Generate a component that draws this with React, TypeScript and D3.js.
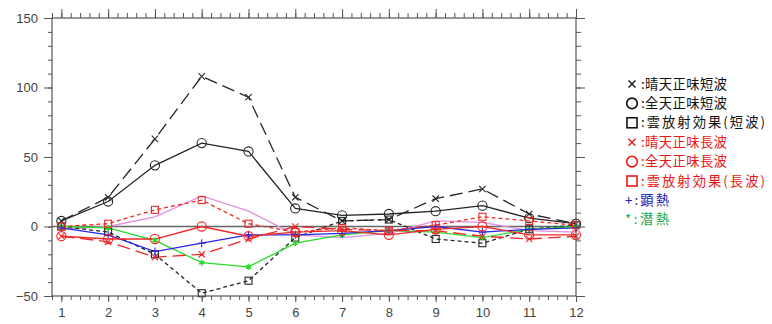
import { useRef, useEffect } from "react";
import * as d3 from "d3";

const months = [1, 2, 3, 4, 5, 6, 7, 8, 9, 10, 11, 12];

const clearSkySW = [4, 21, 63, 108, 93, 21, 4, 5, 20, 27, 9, 2];
const allSkySW = [4, 18, 44, 60, 54, 13, 8, 9, 11, 15, 6, 2];
const cloudSW = [0, -4, -20, -48, -39, -8, 4, 5, -9, -12, -2, 1];
const clearSkyLW = [-7, -11, -22, -20, -9, 0, -2, -3, -3, -7, -9, -7];
const allSkyLW = [-7, -9, -9, 0, -7, -4, -3, -6, -2, 0, -6, -6];
const cloudLW = [0, 2, 12, 19, 2, -4, -1, -3, 1, 7, 4, 1];
const sensible = [-1, -6, -18, -12, -6, -6, -5, -3, 0, -4, -2, -1];
const latent = [0, -1, -10, -26, -29, -12, -6, -3, -4, -8, -2, 0];
const violet = [-2, 0, 7, 22, 11, -6, -8, -5, 4, 3, -3, -4];

const yTicks = [-50, 0, 50, 100, 150];

type Marker = "x" | "o" | "s" | "+" | "*" | null;

interface Series {
  values: number[];
  color: string;
  dash: string | null;
  marker: Marker;
}

const BLACK = "#262626";
const RED = "#f02828";
const BLUE = "#2626e6";
const GREEN = "#28dc28";
const VIOLET = "#e090e0";

const series: Series[] = [
  { values: violet, color: VIOLET, dash: null, marker: null },
  { values: clearSkySW, color: BLACK, dash: "13,6", marker: "x" },
  { values: allSkySW, color: BLACK, dash: null, marker: "o" },
  { values: cloudSW, color: BLACK, dash: "4,3", marker: "s" },
  { values: latent, color: GREEN, dash: null, marker: "*" },
  { values: sensible, color: BLUE, dash: null, marker: "+" },
  { values: clearSkyLW, color: RED, dash: "13,6", marker: "x" },
  { values: allSkyLW, color: RED, dash: null, marker: "o" },
  { values: cloudLW, color: RED, dash: "4,3", marker: "s" },
];

const legendItems = [
  { sym: "x", label: ":晴天正味短波", color: "#111", w: 86 },
  { sym: "o", label: ":全天正味短波", color: "#111", w: 86 },
  { sym: "s", label: ":雲放射効果(短波)", color: "#111", w: 124 },
  { sym: "x", label: ":晴天正味長波", color: "#e81818", w: 86 },
  { sym: "o", label: ":全天正味長波", color: "#e81818", w: 86 },
  { sym: "s", label: ":雲放射効果(長波)", color: "#e81818", w: 124 },
  { sym: "+", label: "+:顕熱", color: "#2020b0", w: 44 },
  { sym: "*", label: "*:潜熱", color: "#18a850", w: 44 },
];

export default function App() {
  const svgRef = useRef<SVGSVGElement>(null);
  const width = 772;
  const height = 324;
  const plot = { left: 52, right: 576, top: 18, bottom: 296 };

  useEffect(() => {
    if (!svgRef.current) return;
    const svg = d3.select(svgRef.current);
    svg.selectAll("*").remove();

    const x = d3.scaleLinear().domain([0.8, 12]).range([plot.left, plot.right]);
    const y = d3.scaleLinear().domain([-50, 150]).range([plot.bottom, plot.top]);

    const axisColor = "#555";
    const tickFont = "'Liberation Sans', Arial, sans-serif";

    // zero line
    svg.append("line")
      .attr("x1", plot.left).attr("x2", plot.right)
      .attr("y1", y(0)).attr("y2", y(0))
      .attr("stroke", "#666").attr("stroke-width", 1.3);

    // series
    const line = d3.line<number>()
      .x((_, i) => x(months[i]))
      .y((d) => y(d));

    series.forEach((s) => {
      svg.append("path")
        .datum(s.values)
        .attr("fill", "none")
        .attr("stroke", s.color)
        .attr("stroke-width", 1.3)
        .attr("stroke-dasharray", s.dash)
        .attr("d", line);
    });

    series.forEach((s) => {
      if (!s.marker) return;
      const g = svg.append("g")
        .attr("stroke", s.color)
        .attr("fill", "none")
        .attr("stroke-width", 1.1);
      s.values.forEach((v, i) => {
        const cx = x(months[i]);
        const cy = y(v);
        if (s.marker === "o") {
          g.append("circle").attr("cx", cx).attr("cy", cy).attr("r", 4.6);
        } else if (s.marker === "s") {
          g.append("rect").attr("x", cx - 3.5).attr("y", cy - 3.5).attr("width", 7).attr("height", 7);
        } else if (s.marker === "x") {
          const r = 3.2;
          g.append("path").attr("d", `M${cx - r},${cy - r}L${cx + r},${cy + r}M${cx - r},${cy + r}L${cx + r},${cy - r}`);
        } else if (s.marker === "+") {
          const r = 4;
          g.append("path").attr("d", `M${cx - r},${cy}L${cx + r},${cy}M${cx},${cy - r}L${cx},${cy + r}`);
        } else if (s.marker === "*") {
          const r = 3;
          let d = "";
          for (let k = 0; k < 3; k++) {
            const a = (Math.PI / 3) * k + Math.PI / 2;
            d += `M${cx - r * Math.cos(a)},${cy - r * Math.sin(a)}L${cx + r * Math.cos(a)},${cy + r * Math.sin(a)}`;
          }
          g.append("path").attr("d", d).attr("stroke-width", 1.4);
        }
      });
    });

    // frame
    svg.append("rect")
      .attr("x", plot.left).attr("y", plot.top)
      .attr("width", plot.right - plot.left).attr("height", plot.bottom - plot.top)
      .attr("fill", "none").attr("stroke", axisColor).attr("stroke-width", 1.2);

    const styleAxis = (a: d3.Selection<SVGGElement, unknown, null, undefined>) => {
      a.select(".domain").remove();
      a.selectAll(".tick line").attr("stroke", axisColor).attr("stroke-width", 1);
      a.selectAll(".tick text")
        .attr("fill", "#444")
        .attr("font-size", 13)
        .attr("font-family", tickFont);
    };

    const xMinor = d3.range(0.8, 12.01, 0.2);
    const yMinor = d3.range(-50, 151, 10);

    // bottom
    svg.append("g").attr("transform", `translate(0,${plot.bottom})`)
      .call(d3.axisBottom(x).tickValues(xMinor).tickSize(4).tickFormat(() => ""))
      .call(styleAxis);
    svg.append("g").attr("transform", `translate(0,${plot.bottom})`)
      .call(d3.axisBottom(x).tickValues(months).tickSize(6).tickPadding(6).tickFormat(d3.format("d")))
      .call(styleAxis);
    // top
    svg.append("g").attr("transform", `translate(0,${plot.top})`)
      .call(d3.axisTop(x).tickValues(xMinor).tickSize(5).tickFormat(() => ""))
      .call(styleAxis);
    svg.append("g").attr("transform", `translate(0,${plot.top})`)
      .call(d3.axisTop(x).tickValues(months).tickSize(9).tickFormat(() => ""))
      .call(styleAxis);
    // left
    svg.append("g").attr("transform", `translate(${plot.left},0)`)
      .call(d3.axisLeft(y).tickValues(yMinor).tickSize(4).tickFormat(() => ""))
      .call(styleAxis);
    svg.append("g").attr("transform", `translate(${plot.left},0)`)
      .call(d3.axisLeft(y).tickValues(yTicks).tickSize(8).tickPadding(6).tickFormat(d3.format("d")))
      .call(styleAxis);
    // right
    svg.append("g").attr("transform", `translate(${plot.right},0)`)
      .call(d3.axisRight(y).tickValues(yMinor).tickSize(5).tickFormat(() => ""))
      .call(styleAxis);
    svg.append("g").attr("transform", `translate(${plot.right},0)`)
      .call(d3.axisRight(y).tickValues(yTicks).tickSize(9).tickFormat(() => ""))
      .call(styleAxis);

    // legend
    const lg = svg.append("g")
      .attr("font-family", "'Noto Sans CJK JP', sans-serif")
      .attr("font-size", 13.3);
    legendItems.forEach((item, i) => {
      const ly = 84 + i * 19.4;
      const sx = 632;
      if (item.sym === "+" || item.sym === "*") {
        lg.append("text")
          .attr("x", 625).attr("y", ly).attr("dy", "0.35em")
          .attr("fill", item.color)
          .attr("textLength", item.w)
          .attr("lengthAdjust", "spacing")
          .text(item.label);
        return;
      }
      const sg = lg.append("g").attr("stroke", item.color).attr("fill", "none").attr("stroke-width", 1.4);
      if (item.sym === "x") {
        const r = 3.5;
        sg.append("path").attr("d", `M${sx - r},${ly - r}L${sx + r},${ly + r}M${sx - r},${ly + r}L${sx + r},${ly - r}`);
      } else if (item.sym === "o") {
        sg.append("circle").attr("cx", sx).attr("cy", ly).attr("r", 5.3).attr("stroke-width", 1.6);
      } else {
        sg.append("rect").attr("x", sx - 5).attr("y", ly - 5).attr("width", 10).attr("height", 10).attr("stroke-width", 1.6);
      }
      lg.append("text")
        .attr("x", 641).attr("y", ly).attr("dy", "0.35em")
        .attr("fill", item.color)
        .attr("textLength", item.w)
        .attr("lengthAdjust", "spacing")
        .text(item.label);
    });
  }, []);

  return (
    <svg
      ref={svgRef}
      width={width}
      height={height}
      style={{ position: "absolute", left: 0, top: 0, background: "#fff" }}
    />
  );
}
